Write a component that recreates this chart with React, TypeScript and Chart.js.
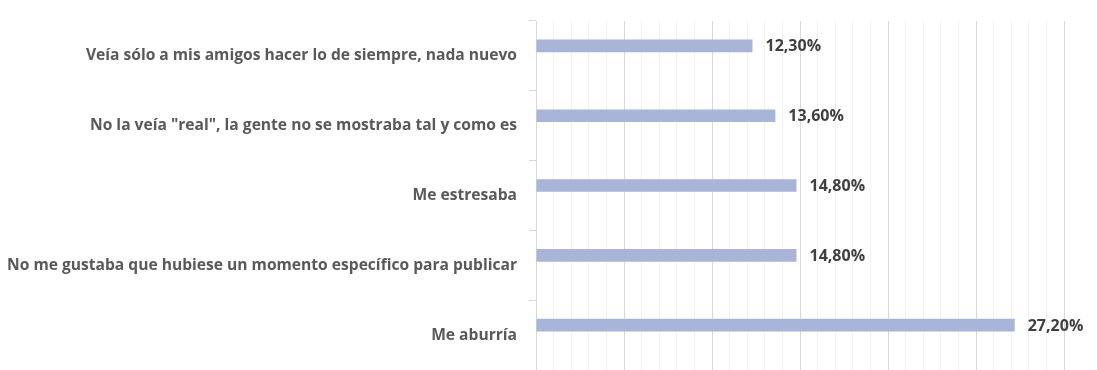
import React, { useEffect, useRef } from "react";
import { Chart, registerables } from "chart.js";

Chart.register(...registerables);

const categories = [
  "Veía sólo a mis amigos hacer lo de siempre, nada nuevo",
  'No la veía "real", la gente no se mostraba tal y como es',
  "Me estresaba",
  "No me gustaba que hubiese un momento específico para publicar",
  "Me aburría",
];
const values = [12.3, 13.6, 14.8, 14.8, 27.2];
const emptySeries = [0, 0, 0, 0, 0];
const axisMin = 0;
const axisMax = 30;
const axisStep = 1;
const majorEvery = 5;

const FONT = "'Open Sans', sans-serif";

const valueLabels = {
  id: "valueLabels",
  afterDatasetsDraw(chart: any) {
    const ctx = chart.ctx;
    const meta = chart.getDatasetMeta(0);
    ctx.save();
    ctx.font = `bold 16px ${FONT}`;
    ctx.fillStyle = "#404040";
    ctx.textAlign = "left";
    ctx.textBaseline = "middle";
    meta.data.forEach((bar: any, i: number) => {
      const v = values[i];
      const txt = v.toFixed(2).replace(".", ",") + "%";
      ctx.fillText(txt, bar.x + 13, bar.y + 1);
    });
    ctx.restore();
  },
};

export default function App() {
  const ref = useRef<HTMLCanvasElement>(null);
  useEffect(() => {
    const chart = new Chart(ref.current!, {
      type: "bar",
      data: {
        labels: categories,
        datasets: [
          {
            data: values,
            backgroundColor: "rgb(168,181,217)",
            borderWidth: 0,
            categoryPercentage: 0.571,
            barPercentage: 0.635,
          },
          {
            data: emptySeries,
            backgroundColor: "rgba(0,0,0,0)",
            borderWidth: 0,
            categoryPercentage: 0.571,
            barPercentage: 0.635,
          },
        ],
      },
      options: {
        indexAxis: "y",
        animation: false,
        responsive: false,
        devicePixelRatio: 1,
        layout: { padding: { top: 21, right: 33, left: 0, bottom: -1 } },
        plugins: {
          legend: { display: false },
          tooltip: { enabled: false },
        },
        scales: {
          x: {
            type: "linear",
            min: axisMin,
            max: axisMax,
            afterFit: (scale: any) => {
              scale.height = 0;
              scale.paddingLeft = 0;
              scale.paddingRight = 0;
            },
            ticks: { display: false, stepSize: axisStep },
            grid: {
              drawTicks: false,
              color: (c: any) =>
                c.tick && c.tick.value % majorEvery === 0 ? "#d9d9d9" : "#f2f2f2",
            },
            border: { display: false },
          },
          y: {
            afterFit: (scale: any) => {
              scale.width = 536;
              scale.paddingTop = 0;
              scale.paddingBottom = 0;
            },
            ticks: {
              padding: 12,
              color: "#595959",
              font: { family: FONT, size: 15.6, weight: "bold" },
            },
            grid: {
              drawOnChartArea: false,
              drawTicks: true,
              tickLength: 7,
              color: "#d9d9d9",
            },
            border: { display: true, color: "#d9d9d9" },
          },
        },
      },
      plugins: [valueLabels],
    });
    return () => chart.destroy();
  }, []);
  return (
    <div style={{ position: "absolute", left: 0, top: 0, width: 1097, height: 370, background: "#fff" }}>
      <canvas ref={ref} width={1097} height={370} />
    </div>
  );
}
